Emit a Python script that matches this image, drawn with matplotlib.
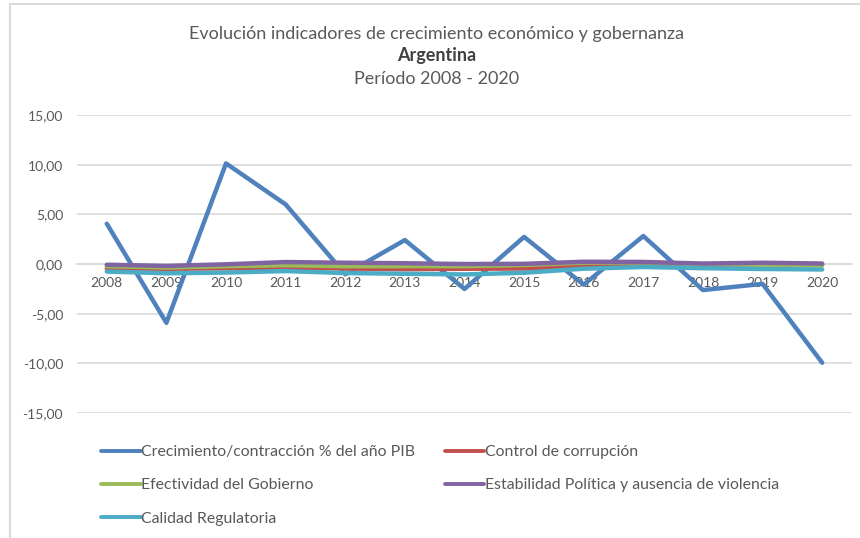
import matplotlib
matplotlib.use("Agg")
import matplotlib.pyplot as plt
from matplotlib.patches import Rectangle

plt.rcParams['font.family'] = ['Lato', 'DejaVu Sans']

# years and indicator values (Argentina)
years = ['2008', '2009', '2010', '2011', '2012', '2013', '2014',
         '2015', '2016', '2017', '2018', '2019', '2020']
pib = [4.06, -5.92, 10.13, 6.00, -1.03, 2.41, -2.51, 2.73, -2.08, 2.82, -2.62, -2.00, -9.94]
corrupcion = [-0.45, -0.48, -0.43, -0.38, -0.45, -0.52, -0.48, -0.45, -0.22, -0.09, -0.08, -0.09, -0.10]
efectividad = [-0.22, -0.35, -0.22, -0.12, -0.22, -0.21, -0.21, -0.10, 0.14, 0.16, -0.02, -0.09, -0.12]
estabilidad = [-0.07, -0.19, -0.03, 0.20, 0.13, 0.08, 0.00, 0.02, 0.23, 0.21, 0.05, 0.13, 0.05]
regulatoria = [-0.76, -0.93, -0.86, -0.71, -0.91, -0.98, -1.05, -0.88, -0.47, -0.30, -0.42, -0.50, -0.55]

yticks = [15, 10, 5, 0, -5, -10, -15]
ytick_labels = ['15,00', '10,00', '5,00', '0,00', '-5,00', '-10,00', '-15,00']

series = [
    ('Crecimiento/contracción % del año PIB', pib, '#4F81BD'),
    ('Control de corrupción', corrupcion, '#C0504D'),
    ('Efectividad del Gobierno', efectividad, '#9BBB59'),
    ('Estabilidad Política y ausencia de violencia', estabilidad, '#8064A2'),
    ('Calidad Regulatoria', regulatoria, '#4BACC6'),
]

fig = plt.figure(figsize=(8.6, 5.38), dpi=100)
ax = fig.add_axes([0.0895, 0.2323, 0.9012, 0.5539])

# chart frame
fig.patches.append(Rectangle((10 / 860, -0.05), 1.0, 1 - 4 / 538 + 0.05,
                             transform=fig.transFigure, fill=False,
                             edgecolor='#D9D9D9', linewidth=1.5))

x = list(range(len(years)))
lines = []
for name, vals, color in series:
    ln, = ax.plot(x, vals, color=color, linewidth=3.2, solid_capstyle='round',
                  solid_joinstyle='round', label=name, zorder=3)
    lines.append(ln)

ax.set_xlim(-0.5, len(years) - 0.5)
ax.set_ylim(-15, 15)
ax.set_yticks(yticks)
ax.set_yticklabels(ytick_labels)
ax.yaxis.grid(True, color='#D9D9D9', linewidth=1.2)
ax.set_axisbelow(True)

for s in ['top', 'right', 'left']:
    ax.spines[s].set_visible(False)
ax.spines['bottom'].set_position(('data', 0))
ax.spines['bottom'].set_color('#D9D9D9')
ax.spines['bottom'].set_linewidth(1.2)
ax.set_xticks(x)
ax.set_xticklabels(years)
ax.tick_params(axis='x', length=0, pad=9, labelsize=10, colors='#595959')
ax.tick_params(axis='y', length=0, pad=10, labelsize=10, colors='#595959')

fig.text(0.508, 1 - 34 / 538, 'Evolución indicadores de crecimiento económico y gobernanza',
         ha='center', va='center', fontsize=13, color='#595959')
fig.text(0.508, 1 - 56 / 538, 'Argentina', ha='center', va='center',
         fontsize=13, fontweight='bold', color='#404040')
fig.text(0.508, 1 - 79 / 538, 'Período 2008 - 2020', ha='center', va='center',
         fontsize=13, color='#595959')

# legend is filled column by column, so order handles to read row-wise
order = [0, 2, 4, 1, 3]
leg = fig.legend(handles=[lines[i] for i in order], loc='upper left',
                 bbox_to_anchor=(0.101, 1 - 431 / 538),
                 ncol=2, frameon=False, fontsize=11.4, handlelength=2.5,
                 handletextpad=0.05, columnspacing=1.85, labelspacing=1.2,
                 labelcolor='#595959')
for h in leg.legend_handles:
    h.set_linewidth(2.8)

fig.savefig('out.png', dpi=100)
